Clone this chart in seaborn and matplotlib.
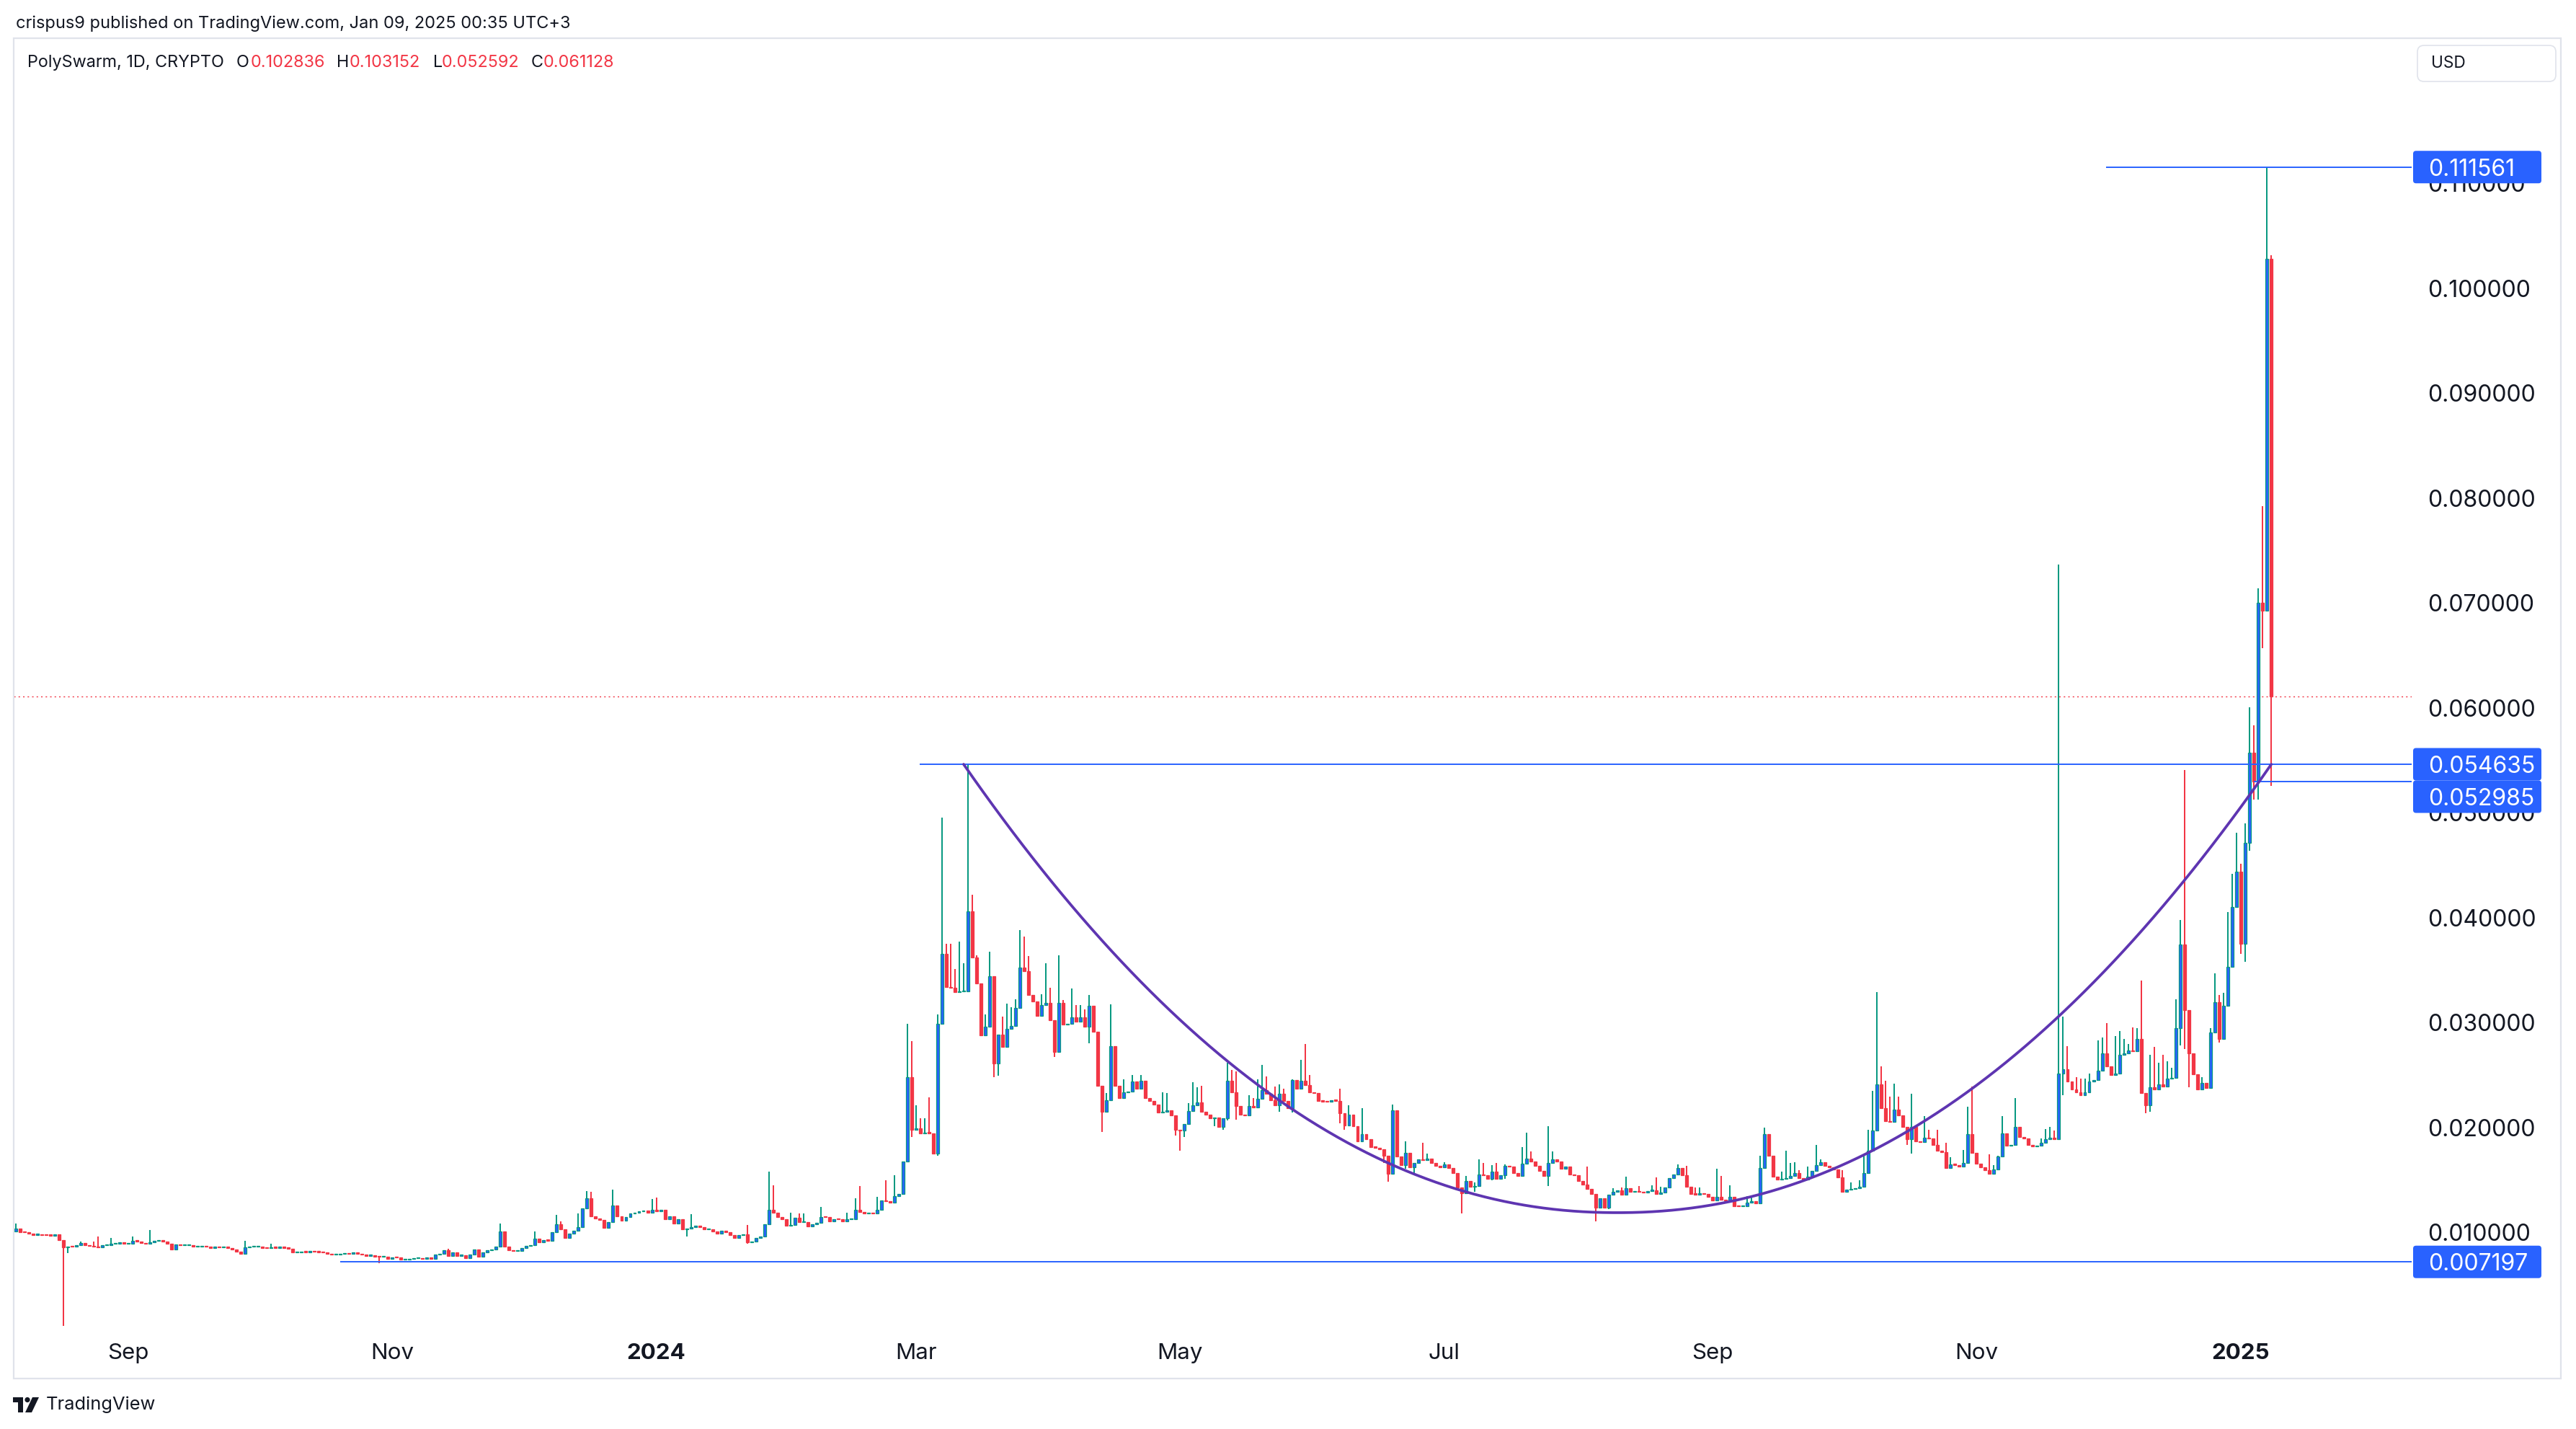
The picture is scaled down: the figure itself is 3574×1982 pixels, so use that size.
import numpy as np
import pandas as pd
import matplotlib
matplotlib.use("Agg")
import matplotlib.pyplot as plt
import matplotlib.dates as mdates
from matplotlib.transforms import IdentityTransform
from matplotlib.patches import FancyBboxPatch, Rectangle, Circle, Polygon
import seaborn as sns

# ---------------------------------------------------------------- data
first_day = "2023-08-06"
first_open = 0.01008

close = [
    0.01037, 0.01003, 0.01001, 0.00992, 0.00978, 0.00980, 0.00975, 0.00973, 0.00971, 0.00985,
    0.00927, 0.00859, 0.00868, 0.00863, 0.00877, 0.00900, 0.00877, 0.00870, 0.00863, 0.00859,
    0.00877, 0.00877, 0.00893, 0.00893, 0.00905, 0.00893, 0.00893, 0.00923, 0.00916, 0.00900,
    0.00893, 0.00905, 0.00920, 0.00927, 0.00916, 0.00893, 0.00840, 0.00886, 0.00877, 0.00877,
    0.00877, 0.00863, 0.00863, 0.00865, 0.00863, 0.00854, 0.00868, 0.00859, 0.00859, 0.00854,
    0.00840, 0.00817, 0.00799, 0.00859, 0.00863, 0.00863, 0.00863, 0.00854, 0.00852, 0.00859,
    0.00854, 0.00856, 0.00854, 0.00847, 0.00808, 0.00808, 0.00817, 0.00813, 0.00822, 0.00817,
    0.00813, 0.00808, 0.00799, 0.00790, 0.00790, 0.00797, 0.00801, 0.00797, 0.00808, 0.00795,
    0.00790, 0.00778, 0.00780, 0.00771, 0.00767, 0.00767, 0.00749, 0.00762, 0.00760, 0.00740,
    0.00742, 0.00749, 0.00753, 0.00753, 0.00749, 0.00762, 0.00749, 0.00790, 0.00795, 0.00831,
    0.00778, 0.00808, 0.00778, 0.00780, 0.00756, 0.00790, 0.00836, 0.00771, 0.00813, 0.00831,
    0.00836, 0.00863, 0.01008, 0.00863, 0.00831, 0.00824, 0.00826, 0.00854, 0.00870, 0.00877,
    0.00939, 0.00909, 0.00927, 0.00923, 0.01001, 0.01076, 0.01030, 0.00946, 0.00992, 0.01019,
    0.01053, 0.01230, 0.01328, 0.01156, 0.01134, 0.01122, 0.01042, 0.01099, 0.01260, 0.01156,
    0.01115, 0.01145, 0.01179, 0.01191, 0.01202, 0.01207, 0.01191, 0.01214, 0.01202, 0.01213,
    0.01124, 0.01153, 0.01088, 0.01124, 0.01028, 0.01040, 0.01049, 0.01064, 0.01049, 0.01028,
    0.01030, 0.01010, 0.00989, 0.01019, 0.01004, 0.00975, 0.00945, 0.00975, 0.00981, 0.00906,
    0.00915, 0.00945, 0.00960, 0.01079, 0.01219, 0.01189, 0.01147, 0.01124, 0.01064, 0.01070,
    0.01138, 0.01100, 0.01102, 0.01058, 0.01079, 0.01094, 0.01147, 0.01145, 0.01109, 0.01130,
    0.01124, 0.01109, 0.01124, 0.01130, 0.01213, 0.01198, 0.01183, 0.01189, 0.01183, 0.01219,
    0.01302, 0.01296, 0.01287, 0.01347, 0.01368, 0.01675, 0.02480, 0.01982, 0.01994, 0.01943,
    0.01949, 0.01947, 0.01749, 0.02986, 0.03657, 0.03341, 0.03330, 0.03292, 0.03297, 0.03300,
    0.04062, 0.03622, 0.03374, 0.02879, 0.02962, 0.03443, 0.02610, 0.02888, 0.02769, 0.02940,
    0.02967, 0.03140, 0.03526, 0.03490, 0.03264, 0.03204, 0.03066, 0.03168, 0.03190, 0.03022,
    0.02720, 0.03187, 0.02981, 0.02989, 0.03053, 0.03011, 0.03053, 0.02962, 0.03163, 0.02915,
    0.02398, 0.02151, 0.02261, 0.02775, 0.02398, 0.02280, 0.02335, 0.02343, 0.02439, 0.02371,
    0.02445, 0.02280, 0.02253, 0.02220, 0.02143, 0.02151, 0.02165, 0.02115, 0.01978, 0.01972,
    0.02033, 0.02159, 0.02214, 0.02241, 0.02151, 0.02123, 0.02088, 0.02095, 0.02005, 0.02088,
    0.02445, 0.02335, 0.02206, 0.02123, 0.02115, 0.02206, 0.02192, 0.02275, 0.02355, 0.02320,
    0.02261, 0.02210, 0.02320, 0.02252, 0.02188, 0.02451, 0.02371, 0.02444, 0.02405, 0.02336,
    0.02330, 0.02256, 0.02249, 0.02245, 0.02261, 0.02256, 0.02137, 0.02023, 0.02123, 0.02016,
    0.01871, 0.01940, 0.01890, 0.01816, 0.01810, 0.01794, 0.01729, 0.01558, 0.02165, 0.01725,
    0.01642, 0.01757, 0.01619, 0.01665, 0.01695, 0.01688, 0.01706, 0.01661, 0.01638, 0.01619,
    0.01649, 0.01615, 0.01569, 0.01427, 0.01374, 0.01489, 0.01436, 0.01443, 0.01551, 0.01546,
    0.01512, 0.01580, 0.01512, 0.01546, 0.01633, 0.01626, 0.01569, 0.01542, 0.01656, 0.01706,
    0.01679, 0.01633, 0.01587, 0.01542, 0.01661, 0.01695, 0.01679, 0.01610, 0.01626, 0.01551,
    0.01546, 0.01489, 0.01454, 0.01413, 0.01367, 0.01237, 0.01328, 0.01237, 0.01358, 0.01386,
    0.01404, 0.01358, 0.01420, 0.01386, 0.01390, 0.01386, 0.01381, 0.01397, 0.01404, 0.01367,
    0.01381, 0.01431, 0.01518, 0.01550, 0.01615, 0.01546, 0.01436, 0.01367, 0.01362, 0.01374,
    0.01367, 0.01340, 0.01305, 0.01340, 0.01312, 0.01305, 0.01340, 0.01253, 0.01248, 0.01253,
    0.01282, 0.01298, 0.01276, 0.01615, 0.01935, 0.01729, 0.01534, 0.01505, 0.01512, 0.01518,
    0.01541, 0.01564, 0.01518, 0.01505, 0.01534, 0.01587, 0.01642, 0.01672, 0.01638, 0.01619,
    0.01603, 0.01528, 0.01386, 0.01408, 0.01413, 0.01420, 0.01436, 0.01564, 0.01780, 0.01970,
    0.02412, 0.02183, 0.02061, 0.02054, 0.02169, 0.02114, 0.02004, 0.01890, 0.02004, 0.01867,
    0.01860, 0.01901, 0.01894, 0.01832, 0.01780, 0.01764, 0.01615, 0.01649, 0.01645, 0.01626,
    0.01665, 0.01940, 0.01757, 0.01656, 0.01619, 0.01596, 0.01557, 0.01603, 0.01725, 0.01947,
    0.01827, 0.01838, 0.02008, 0.01913, 0.01895, 0.01838, 0.01819, 0.01830, 0.01857, 0.01887,
    0.01902, 0.01887, 0.02517, 0.02554, 0.02441, 0.02366, 0.02339, 0.02309, 0.02339, 0.02441,
    0.02453, 0.02543, 0.02705, 0.02581, 0.02498, 0.02517, 0.02694, 0.02705, 0.02732, 0.02725,
    0.02845, 0.02328, 0.02215, 0.02385, 0.02366, 0.02415, 0.02390, 0.02464, 0.02476, 0.02949,
    0.03747, 0.03121, 0.02710, 0.02507, 0.02366, 0.02427, 0.02380, 0.02906, 0.03194, 0.02845,
    0.03164, 0.03532, 0.04103, 0.04440, 0.03753, 0.04716, 0.05575, 0.05299, 0.07005, 0.06925,
    0.102836, 0.061128,
]

# (candle number counted from first_day, price) for visible upper wicks
upper_wicks = [
    (0, 0.01088), (15, 0.00916), (18, 0.00916), (19, 0.00962), (22, 0.00950), (27, 0.00962),
    (31, 0.01023), (53, 0.00920), (59, 0.00893), (100, 0.00847), (107, 0.00840), (112, 0.01083),
    (120, 0.01008), (125, 0.01168), (126, 0.01106), (130, 0.01179), (132, 0.01397), (133, 0.01385),
    (138, 0.01408), (147, 0.01317), (148, 0.01330), (156, 0.01174), (169, 0.01070), (174, 0.01577),
    (175, 0.01451), (179, 0.01189), (181, 0.01183), (182, 0.01183), (186, 0.01243), (192, 0.01189),
    (194, 0.01323), (195, 0.01442), (199, 0.01338), (201, 0.01496), (203, 0.01547), (206, 0.02992),
    (207, 0.02822), (208, 0.02212), (209, 0.02092), (210, 0.02092), (211, 0.02286), (213, 0.03076),
    (214, 0.04955), (215, 0.03754), (216, 0.03754), (217, 0.03512), (218, 0.03773), (219, 0.03567),
    (220, 0.054635), (221, 0.04218), (222, 0.03644), (224, 0.03077), (225, 0.03677), (228, 0.03058),
    (229, 0.03182), (230, 0.03146), (231, 0.03223), (232, 0.03883), (233, 0.03822), (234, 0.03635),
    (237, 0.03270), (238, 0.03567), (239, 0.03333), (241, 0.03644), (242, 0.03215), (244, 0.03325),
    (245, 0.03168), (246, 0.03168), (247, 0.03127), (248, 0.03264), (252, 0.02329), (253, 0.03173),
    (256, 0.02461), (258, 0.02500), (260, 0.02500), (265, 0.02335), (266, 0.02329), (271, 0.02233),
    (272, 0.02434), (273, 0.02385), (274, 0.02398), (280, 0.02618), (281, 0.02550), (282, 0.02536),
    (285, 0.02310), (286, 0.02279), (287, 0.02458), (288, 0.02595), (289, 0.02486), (291, 0.02394),
    (292, 0.02412), (293, 0.02371), (295, 0.02463), (297, 0.02646), (298, 0.02795), (299, 0.02504),
    (306, 0.02371), (308, 0.02215), (311, 0.02188), (318, 0.02222), (321, 0.01871), (325, 0.01855),
    (326, 0.01752), (330, 0.01672), (335, 0.01541), (337, 0.01477), (338, 0.01695), (339, 0.01661),
    (341, 0.01642), (342, 0.01665), (344, 0.01649), (348, 0.01816), (349, 0.01954), (350, 0.01775),
    (354, 0.02016), (355, 0.01775), (363, 0.01626), (369, 0.01420), (371, 0.01432), (372, 0.01530),
    (375, 0.01443), (378, 0.01450), (379, 0.01528), (380, 0.01436), (384, 0.01649), (386, 0.01633),
    (388, 0.01431), (389, 0.01431), (393, 0.01610), (394, 0.01541), (396, 0.01447), (400, 0.01344),
    (401, 0.01344), (403, 0.01729), (404, 0.01999), (408, 0.01580), (409, 0.01780), (410, 0.01665),
    (411, 0.01672), (412, 0.01596), (414, 0.01626), (416, 0.01832), (417, 0.01700), (422, 0.01596),
    (424, 0.01477), (426, 0.01500), (427, 0.01729), (428, 0.01977), (429, 0.02348), (430, 0.03292),
    (431, 0.02581), (432, 0.02444), (433, 0.02298), (434, 0.02417), (435, 0.02298), (438, 0.02320),
    (441, 0.02107), (442, 0.01981), (444, 0.01981), (446, 0.01855), (447, 0.01718), (450, 0.01787),
    (451, 0.02199), (452, 0.02394), (456, 0.01748), (457, 0.01642), (458, 0.01729), (459, 0.02107),
    (462, 0.02279), (468, 0.01899), (469, 0.01985), (470, 0.02004), (471, 0.01973), (472, 0.07369),
    (473, 0.03056), (474, 0.02773), (476, 0.02479), (477, 0.02468), (478, 0.02468), (479, 0.02517),
    (481, 0.02830), (482, 0.02856), (483, 0.02996), (485, 0.02875), (486, 0.02920), (487, 0.02845),
    (488, 0.02800), (489, 0.02958), (490, 0.02950), (491, 0.03403), (493, 0.02694), (494, 0.02769),
    (495, 0.02618), (496, 0.02691), (497, 0.02630), (498, 0.02570), (499, 0.03225), (500, 0.03980),
    (501, 0.05410), (505, 0.02480), (507, 0.02950), (508, 0.03471), (509, 0.03262), (510, 0.03286),
    (511, 0.04054), (512, 0.04421), (513, 0.04808), (514, 0.04514), (515, 0.04900), (516, 0.06005),
    (517, 0.05833), (518, 0.07140), (519, 0.07925), (520, 0.111561), (521, 0.103152),
]

# (candle number, price) for visible lower wicks
lower_wicks = [
    (11, 0.00110), (12, 0.00801), (36, 0.00830), (84, 0.00710), (155, 0.00960), (169, 0.00890),
    (207, 0.01913), (213, 0.01734), (226, 0.02481), (227, 0.02494), (229, 0.02769), (240, 0.02670),
    (241, 0.02714), (248, 0.02802), (251, 0.01958), (252, 0.02143), (253, 0.02261), (268, 0.01923),
    (269, 0.01780), (270, 0.01912), (277, 0.02013), (279, 0.01978), (280, 0.02069), (282, 0.02078),
    (292, 0.02153), (295, 0.02146), (306, 0.02039), (307, 0.01981), (311, 0.01871), (316, 0.01661),
    (317, 0.01482), (321, 0.01610), (323, 0.01569), (334, 0.01184), (335, 0.01368), (337, 0.01385),
    (341, 0.01495), (344, 0.01510), (354, 0.01443), (365, 0.01104), (368, 0.01221), (434, 0.02073),
    (437, 0.01832), (438, 0.01752), (473, 0.02309), (492, 0.02140), (493, 0.02151), (500, 0.02783),
    (501, 0.02752), (502, 0.02385), (509, 0.02814), (514, 0.03654), (515, 0.03581), (516, 0.04636),
    (517, 0.05127), (518, 0.05127), (519, 0.06569), (521, 0.052592),
]

# drawn horizontal levels and the rounding-bottom arc
level_top = 0.111561
level_neck = 0.054635
level_second = 0.052985
level_base = 0.007197
top_line_from = "2024-11-30 22:00"
neck_line_from = "2024-03-01 20:00"
second_line_from = "2025-01-04"
base_line_from = "2023-10-20"
arc_from = "2024-03-12"
arc_to = "2025-01-08 02:00"
arc_bottom = 0.01189

price_ticks = [0.01, 0.02, 0.03, 0.04, 0.05, 0.06, 0.07, 0.08, 0.09, 0.10, 0.11]
month_ticks = ["2023-09-01", "2023-11-01", "2024-01-01", "2024-03-01", "2024-05-01",
               "2024-07-01", "2024-09-01", "2024-11-01", "2025-01-01"]
month_labels = ["Sep", "Nov", "2024", "Mar", "May", "Jul", "Sep", "Nov", "2025"]
byline = "crispus9 published on TradingView.com, Jan 09, 2025 00:35 UTC+3"
symbol_text = "PolySwarm, 1D, CRYPTO"
currency = "USD"

# ---------------------------------------------------------------- style
INK = "#131722"
GREEN = "#089981"
RED = "#F23645"
BLUE = "#2962FF"
PURPLE = "#5E35B1"
FRAME = "#E0E3EB"

sns.set_theme(style="white")
plt.rcParams["font.family"] = ["Inter", "DejaVu Sans"]

W, H, DPI = 3574, 1982, 100
AX_L, AX_R, AX_T, AX_B = 19, 3346, 53, 1852
# pixel calibration of the reference
X_SEP1, PX_DAY = 177.8, 6.006
Y_REF, P_REF, PX_UNIT = 1060.0, 0.054635, 14550.0

fig = plt.figure(figsize=(W / DPI, H / DPI), dpi=DPI)
fig.patch.set_facecolor("white")
renderer = fig.canvas.get_renderer()
PIX = IdentityTransform()


def fit_size(s, target_px, weight="normal"):
    t = fig.text(0, 0, s, fontsize=20, fontweight=weight)
    w = t.get_window_extent(renderer=renderer).width
    t.remove()
    return 20.0 * target_px / w


def ptext(px, py, s, size, color=INK, weight="normal", ha="left", va="center", z=8):
    return fig.text(px, H - py, s, transform=PIX, fontsize=size, color=color,
                    fontweight=weight, ha=ha, va=va, zorder=z)


ax = fig.add_axes([AX_L / W, 1 - AX_B / H, (AX_R - AX_L) / W, (AX_B - AX_T) / H])
ax.set_facecolor("white")
for s in ax.spines.values():
    s.set_visible(False)

ref = mdates.date2num(pd.Timestamp("2023-09-01"))
ax.set_xlim(ref + (AX_L - X_SEP1) / PX_DAY, ref + (AX_R - X_SEP1) / PX_DAY)
ax.set_ylim(P_REF - (AX_B - Y_REF) / PX_UNIT, P_REF - (AX_T - Y_REF) / PX_UNIT)
x_right = ax.get_xlim()[1]

# ---------------------------------------------------------------- candles
c = np.array(close, dtype=float)
dates = pd.date_range(first_day, periods=len(c), freq="D")
x = mdates.date2num(dates)
o = np.concatenate([[first_open], c[:-1]])
hi = np.maximum(o, c)
lo = np.minimum(o, c)
for i, v in upper_wicks:
    hi[i] = max(hi[i], v)
for i, v in lower_wicks:
    lo[i] = min(lo[i], v)

up = c >= o
body_lo = np.minimum(o, c)
body_h = np.maximum(np.abs(c - o), 0.00009)

ax.vlines(x[up], lo[up], hi[up], colors=GREEN, linewidth=1.44, zorder=2, snap=True)
ax.vlines(x[~up], lo[~up], hi[~up], colors=RED, linewidth=1.44, zorder=2, snap=True)
ax.bar(x[up], body_h[up], bottom=body_lo[up], width=0.66, color=BLUE,
       edgecolor=GREEN, linewidth=0.9, zorder=3)
ax.bar(x[~up], body_h[~up], bottom=body_lo[~up], width=0.66, color=RED,
       edgecolor=RED, linewidth=0.9, zorder=3)

# last price dotted line
ax.axhline(c[-1], color=RED, linewidth=1.0, linestyle=(0, (1.5, 3)), zorder=1)

# horizontal levels
for lvl, start in [(level_top, top_line_from), (level_neck, neck_line_from),
                   (level_second, second_line_from), (level_base, base_line_from)]:
    ax.hlines(lvl, mdates.date2num(pd.Timestamp(start)), x_right, colors=BLUE,
              linewidth=1.4, zorder=6)

# rounding-bottom arc
a0 = mdates.date2num(pd.Timestamp(arc_from))
a1 = mdates.date2num(pd.Timestamp(arc_to))
t = np.linspace(-1, 1, 400)
arc_x = (a0 + a1) / 2 + t * (a1 - a0) / 2
arc_y = arc_bottom + (level_neck - arc_bottom) * np.abs(t) ** 2.1
sns.lineplot(x=arc_x, y=arc_y, ax=ax, color=PURPLE, linewidth=2.7, sort=False,
             estimator=None, zorder=7, legend=False)

# ---------------------------------------------------------------- axes text
price_size = fit_size("0.100000", 143)
time_size = price_size * 0.98

ax.yaxis.tick_right()
ax.set_yticks(price_ticks)
ax.set_yticklabels([f"{v:.6f}" for v in price_ticks])
ax.tick_params(axis="y", length=0, pad=(3368 - AX_R) * 72 / DPI,
               labelsize=price_size, labelcolor=INK)

ax.set_xticks(mdates.date2num(pd.to_datetime(month_ticks)))
ax.set_xticklabels(month_labels)
ax.tick_params(axis="x", length=0, pad=8, labelsize=time_size, labelcolor=INK)
for lbl in ax.get_xticklabels():
    if lbl.get_text().isdigit():
        lbl.set_fontweight("bold")
ax.grid(False)


# price boxes on the scale
def price_box(price, center_disp_y):
    x0, x1, h = 3348, 3526, 45
    box = FancyBboxPatch((x0, center_disp_y - h / 2), x1 - x0, h,
                         boxstyle="round,pad=0,rounding_size=4", transform=PIX,
                         facecolor=BLUE, edgecolor="none", zorder=5)
    fig.add_artist(box)
    fig.text(3369, center_disp_y, f"{price:.6f}", transform=PIX, fontsize=price_size,
             color="white", ha="left", va="center_baseline", zorder=6)


def disp_y(price):
    return ax.transData.transform((x_right, price))[1]


price_box(level_top, disp_y(level_top))
neck_c = disp_y(level_neck)
price_box(level_neck, neck_c)
price_box(level_second, neck_c - 45)
price_box(level_base, disp_y(level_base))

# frame around the chart panel
fig.add_artist(Rectangle((19, H - 1912), 3553 - 19, 1912 - 53, transform=PIX,
                         fill=False, edgecolor=FRAME, linewidth=1.6, zorder=0.5))

# currency button
fig.add_artist(FancyBboxPatch((3354, H - 113), 192, 50,
                              boxstyle="round,pad=0,rounding_size=9", transform=PIX,
                              facecolor="white", edgecolor=FRAME, linewidth=1.2, zorder=4))
ptext(3373, 88, currency, fit_size(currency, 48), z=9)

# byline
ptext(22, 33, byline, fit_size(byline, 769))

# symbol legend
leg_size = fit_size(symbol_text, 274)
ptext(38, 87, symbol_text, leg_size)
ohlc = [("O", o[-1], 328, 348), ("H", hi[-1], 467, 485), ("L", lo[-1], 601, 613),
        ("C", c[-1], 737, 754)]
for letter, val, lx, vx in ohlc:
    ptext(lx, 87, letter, leg_size)
    ptext(vx, 87, f"{val:.6f}", leg_size, color=RED)

# TradingView logo
fig.add_artist(Rectangle((18, H - 1945), 14, 7, transform=PIX, facecolor=INK,
                         edgecolor="none"))
fig.add_artist(Rectangle((25, H - 1959), 7, 21, transform=PIX, facecolor=INK,
                         edgecolor="none"))
fig.add_artist(Circle((38, H - 1941.5), 3.6, transform=PIX, facecolor=INK,
                      edgecolor="none"))
fig.add_artist(Polygon([(45, H - 1938), (54, H - 1938), (44, H - 1959), (35, H - 1959)],
                       closed=True, transform=PIX, facecolor=INK, edgecolor="none"))
ptext(64, 1948, "TradingView", fit_size("TradingView", 152))

fig.savefig("out.png", dpi=DPI, facecolor="white")
